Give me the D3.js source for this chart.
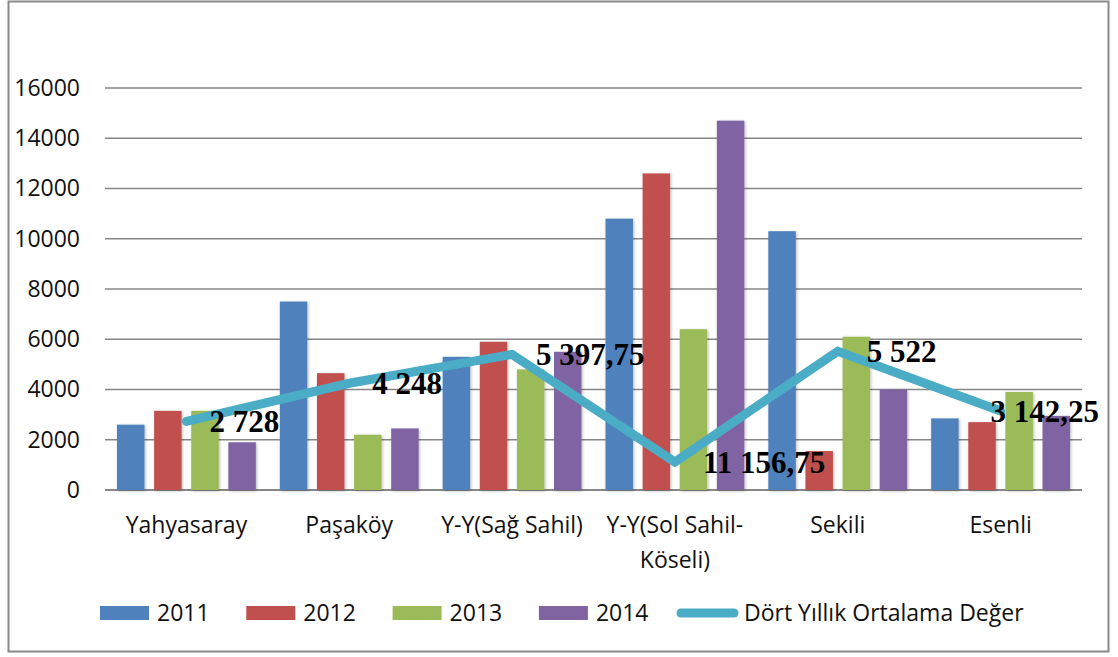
<html>
<head>
<title>Dört Yıllık Ortalama Değer</title>
<script src="https://d3js.org/d3.v7.min.js"></script>
<style>
body { margin: 0; background: #fff; }
svg { display: block; }
.tick text { font-family: 'Open Sans', sans-serif; }
</style>
</head>
<body>
<div id="plot"></div>

<script>

// data
var categories = ["Yahyasaray", "Paşaköy", "Y-Y(Sağ Sahil)", "Y-Y(Sol Sahil-Köseli)", "Sekili", "Esenli"];
var years = ["2011", "2012", "2013", "2014"];
var values2011 = [2600, 7500, 5300, 10800, 10300, 2850];
var values2012 = [3150, 4650, 5900, 12600, 1550, 2700];
var values2013 = [3150, 2200, 4800, 6400, 6100, 3900];
var values2014 = [1900, 2450, 5500, 14700, 4000, 2950];
var averageValues = [2728, 4248, 5397.75, 1115, 5522, 3142.25];
var averageLabels = ["2 728", "4 248", "5 397,75", "11 156,75", "5 522", "3 142,25"];
var yTicks = [0, 2000, 4000, 6000, 8000, 10000, 12000, 14000, 16000];
var lineName = "Dört Yıllık Ortalama Değer";

var seriesValues = [values2011, values2012, values2013, values2014];
var colors = ["#4f81bd", "#c0504d", "#9bbb59", "#8064a2"];
var lineColor = "#4bacc6";
// label nudges as placed in the original
var labelDx = [23, 23, 24, 28, 29, -10];

var width = 1118;
var height = 657;
var plot = { left: 105, right: 1082, top: 88, bottom: 490 };

var svg = d3.select("#plot").append("svg")
.attr("width", width).attr("height", height);

var defs = svg.append("defs");
var shadow = defs.append("filter").attr("id", "shadow")
.attr("x", "-30%").attr("y", "-10%").attr("width", "160%").attr("height", "120%");
shadow.append("feDropShadow")
.attr("dx", 1).attr("dy", 1).attr("stdDeviation", 1.8)
.attr("flood-color", "#000").attr("flood-opacity", 0.28);

// outer frame
svg.append("rect")
.attr("x", 8.5).attr("y", 1.5).attr("width", 1100).attr("height", 650)
.style("fill", "#fff").style("stroke", "#8a8a8a").style("stroke-width", 2);

var xScale = d3.scaleBand().domain(categories).range([plot.left, plot.right]);
var xInner = d3.scaleBand().domain(years).range([12, xScale.bandwidth() - 12]).paddingInner(0.26);
var yScale = d3.scaleLinear().domain([0, 16000]).range([plot.bottom, plot.top]);

// gridlines
svg.append("g").selectAll("line").data(yTicks).enter()
.append("line")
.attr("x1", plot.left).attr("x2", plot.right)
.attr("y1", function (d) { return yScale(d); })
.attr("y2", function (d) { return yScale(d); })
.style("stroke", "#878787").style("stroke-width", function (d) { return d === 0 ? 2 : 1.5; });

// y axis labels
var yAxis = d3.axisLeft(yScale).tickValues(yTicks).tickSize(0).tickPadding(0)
.tickFormat(function (d) { return String(d); });
var yAxisG = svg.append("g").attr("transform", "translate(80,0)").call(yAxis);
yAxisG.select(".domain").remove();
yAxisG.selectAll("text").style("font-size", "23px").style("fill", "#111");

// bars
var barRows = [];
categories.forEach(function (cat, i) {
	years.forEach(function (year, j) {
		barRows.push({ category: cat, year: year, value: seriesValues[j][i], color: colors[j] });
	});
});

svg.append("g").attr("filter", "url(#shadow)")
.selectAll("rect").data(barRows).enter()
.append("rect")
.attr("x", function (d) { return xScale(d.category) + xInner(d.year); })
.attr("width", xInner.bandwidth())
.attr("y", function (d) { return yScale(d.value); })
.attr("height", function (d) { return yScale(0) - yScale(d.value); })
.style("fill", function (d) { return d.color; });

// average line
var line = d3.line()
.x(function (d, i) { return xScale(categories[i]) + xScale.bandwidth() / 2; })
.y(function (d) { return yScale(d); });

svg.append("path").datum(averageValues)
.attr("d", line)
.style("fill", "none").style("stroke", lineColor).style("stroke-width", 9)
.style("stroke-linecap", "round").style("stroke-linejoin", "miter");

svg.append("g").selectAll("text").data(averageValues).enter()
.append("text")
.attr("x", function (d, i) { return xScale(categories[i]) + xScale.bandwidth() / 2 + labelDx[i]; })
.attr("y", function (d) { return yScale(d); })
.attr("dy", "0.35em")
.style("font-family", "'Liberation Serif', 'Times New Roman', serif")
.style("font-weight", "bold").style("font-size", "31px").style("fill", "#000")
.text(function (d, i) { return averageLabels[i]; });

// x axis labels, wrapped like the original
var xAxis = d3.axisBottom(xScale).tickSize(0).tickPadding(0);
var xAxisG = svg.append("g").attr("transform", "translate(0,517)").call(xAxis);
xAxisG.select(".domain").remove();
xAxisG.selectAll("text")
.style("font-size", "23px").style("fill", "#111")
.attr("y", 0).attr("dy", "0.35em")
.each(function (d) {
	var t = d3.select(this);
	if (d === "Y-Y(Sol Sahil-Köseli)") {
		t.text(null);
		t.append("tspan").attr("x", 0).attr("dy", "0.35em").text("Y-Y(Sol Sahil-");
		t.append("tspan").attr("x", 0).attr("dy", "1.5em").text("Köseli)");
	}
});
xAxisG.attr("transform", "translate(0,525)");

// legend
var legend = svg.append("g").attr("transform", "translate(0,613)");
years.forEach(function (year, j) {
	var g = legend.append("g").attr("transform", "translate(" + (100 + j * 146.3) + ",0)");
	g.append("rect").attr("x", 0).attr("y", -7).attr("width", 49).attr("height", 14)
	.style("fill", colors[j]);
	g.append("text").attr("x", 57).attr("dy", "0.35em")
	.style("font-family", "'Open Sans', sans-serif").style("font-size", "23px").style("fill", "#111")
	.text(year);
});
var lg = legend.append("g").attr("transform", "translate(681,0)");
lg.append("line").attr("x1", 0).attr("x2", 53).attr("y1", 0).attr("y2", 0)
.style("stroke", lineColor).style("stroke-width", 9).style("stroke-linecap", "round");
lg.append("text").attr("x", 63).attr("dy", "0.35em")
.style("font-family", "'Open Sans', sans-serif").style("font-size", "23px").style("fill", "#111")
.text(lineName);

</script>
</body>
</html>
